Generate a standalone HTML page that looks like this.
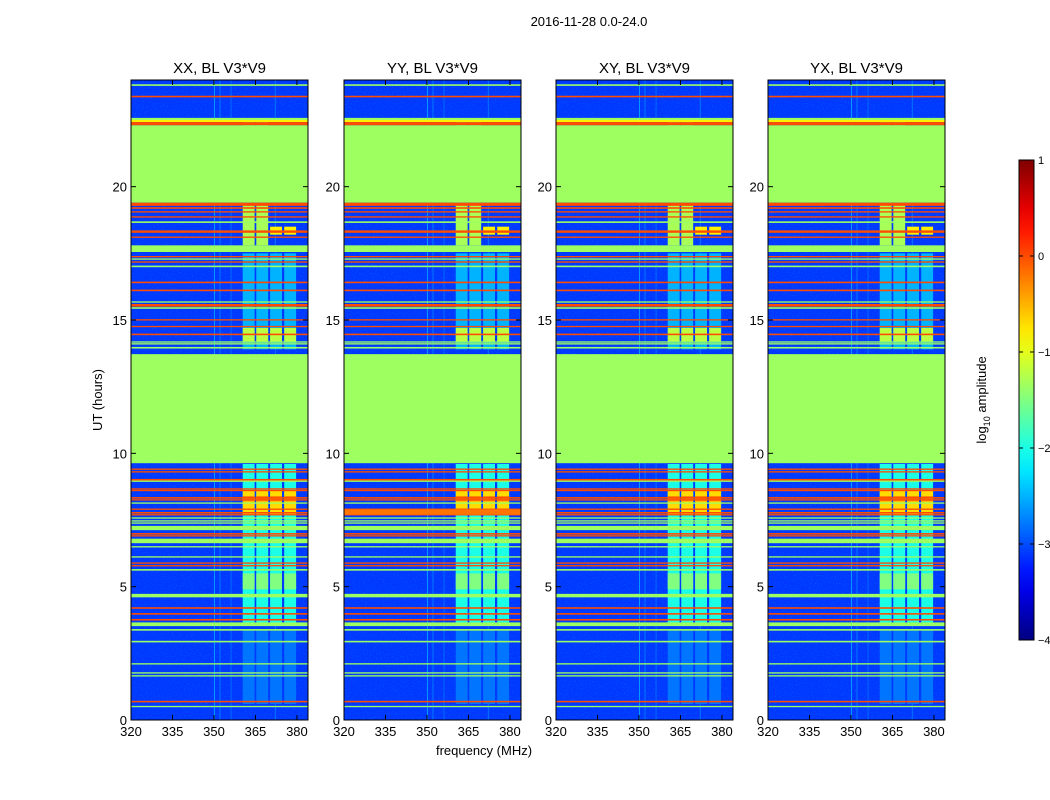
<!DOCTYPE html>
<html><head><meta charset="utf-8"><style>
body{margin:0;background:#fff;}
svg{display:block;font-family:"Liberation Sans",sans-serif;}
</style></head><body>
<svg id="chart" width="1050" height="800">
<text x="589" y="26" font-size="13" text-anchor="middle">2016-11-28 0.0-24.0</text>
<text x="484" y="755" font-size="13" text-anchor="middle">frequency (MHz)</text>
<text transform="translate(102,400) rotate(-90)" font-size="13" text-anchor="middle">UT (hours)</text>
</svg>
<script>
const panelTitles=["XX, BL V3*V9","YY, BL V3*V9","XY, BL V3*V9","YX, BL V3*V9"];
const panelLefts=[131,344,556,768];
const xTicks=[320,335,350,365,380];
const yTicks=[0,5,10,15,20];
const cbTicks=[1,0,-1,-2,-3,-4];
// horizontal bands: [startHour, endHour, log10 amplitude]
const bandStart=[23.78,23.35,22.5,22.42,22.3,22.2,19.4,19.28,19.17,19.03,18.84,18.64,18.27,18.08,17.55,17.35,17.26,17.15,16.98,16.38,16.08,15.65,15.5,15.42,14.98,14.73,14.43,14.15,14.08,13.93,9.63,9.38,9.28,8.98,8.93,8.64,8.58,8.3,8.23,8.11,7.88,7.74,7.67,7.55,7.44,7.36,7.12,6.95,6.88,6.63,6.47,6.09,5.86,5.76,5.6,4.6,4.17,3.95,3.73,3.52,3.35,2.91,2.08,1.74,1.63,0.66,0.48];
const bandEnd  =[23.84,23.41,22.58,22.5,22.42,22.3,22.2,19.4,19.23,19.08,18.89,18.7,18.36,18.13,17.8,17.4,17.31,17.2,17.04,16.44,16.14,15.7,15.6,15.48,15.03,14.78,14.49,14.2,14.13,13.99,13.72,9.43,9.33,9.04,8.98,8.69,8.63,8.36,8.28,8.16,7.93,7.8,7.72,7.6,7.49,7.41,7.28,7.01,6.93,6.8,6.52,6.14,5.91,5.81,5.66,4.73,4.23,4.01,3.79,3.66,3.41,2.97,2.13,1.79,1.68,0.72,0.53];
const bandValue=[-1.35,0,-1.35,-0.8,0,-1.35,-1.35,0,0,0,0,-1.35,0,0,-1.35,0,-1.35,0,-1.35,0,0,-1.35,0,-1.35,0,0,0,-1.35,-1.35,-1.35,-1.35,0,0,0,-1.35,0,0,0,0,-1.35,0,0,0,-1.35,-1.35,-1.35,-1.35,0,0,-1.35,-1.35,-1.35,0,0,-1.35,-1.35,0,0,0,-1.35,-1.35,-1.35,-1.35,-1.35,-1.35,0,-1.35];
// RFI blocks: frequency columns and time ranges
const colStart=[360.4,365.3,370.3,375.4];
const colEnd=[364.7,369.6,374.6,379.7];
const blockStart=[0.6,3.6,4.9,7.7,8.2,13.9,14.2,17.8,18.2,22.1];
const blockEnd=[3.4,9.6,5.5,8.6,8.4,17.5,14.7,19.3,18.5,22.5];
const blockValue=[-2.8,-2.0,-1.5,-0.7,-0.3,-2.5,-1.2,-1.3,-0.8,-2.1];
const blockCols=[[0,1,2,3],[0,1,2,3],[0,1,2,3],[0,1,2,3],[0,1,2,3],[0,1,2,3],[0,1,2,3],[0,1],[2,3],[0,1]];
// faint vertical RFI lines
const vlineFreq=[350,352,356,372];
const vlineValue=[-2.3,-2.6,-2.7,-2.6];
// YY-specific band
const yyBandStart=[7.7];const yyBandEnd=[7.9];const yyBandValue=[-0.2];

const NS="http://www.w3.org/2000/svg";
const svg=document.getElementById("chart");
const TOP=80,BOT=720,PW=177,FMIN=320,FMAX=384,HMAX=24,VMIN=-4,VMAX=1;
function jet(v){let t=(v-VMIN)/(VMAX-VMIN);t=Math.max(0,Math.min(1,t));
 const c=x=>Math.round(255*Math.max(0,Math.min(1,x)));
 return `rgb(${c(1.5-Math.abs(4*t-3))},${c(1.5-Math.abs(4*t-2))},${c(1.5-Math.abs(4*t-1))})`;}
function yH(h){return BOT-(h/HMAX)*(BOT-TOP);}
function el(tag,attrs,parent){const e=document.createElementNS(NS,tag);for(const k in attrs)e.setAttribute(k,attrs[k]);(parent||svg).appendChild(e);return e;}
const defs=el("defs",{});
defs.innerHTML='<filter id="noise" x="0" y="0" width="100%" height="100%"><feTurbulence type="fractalNoise" baseFrequency="0.9" numOctaves="1" seed="3"/><feColorMatrix values="0 0 0 0 0  0 0 0 0 0.6  0 0 0 0 1  0 0 0 1.6 -0.9"/></filter><linearGradient id="cbgrad" x1="0" y1="1" x2="0" y2="0"></linearGradient>';

panelLefts.forEach((L,p)=>{
 const xF=f=>L+(f-FMIN)/(FMAX-FMIN)*PW;
 const g=el("g",{});
 
 
 const bg=el("rect",{x:L,y:TOP,width:PW,height:BOT-TOP,fill:jet(-3.1)},g);
 
 
 el("rect",{x:L,y:TOP,width:PW,height:BOT-TOP,filter:"url(#noise)",opacity:0.7},g);
 vlineFreq.forEach((f,i)=>{const r=el("rect",{x:xF(f),y:TOP,width:1,height:BOT-TOP,fill:jet(vlineValue[i]),opacity:0.6},g);
  
  });
 blockStart.forEach((s,i)=>{blockCols[i].forEach(c=>{
  const r=el("rect",{x:xF(colStart[c]),y:yH(blockEnd[i]),width:xF(colEnd[c])-xF(colStart[c]),height:yH(s)-yH(blockEnd[i]),fill:jet(blockValue[i])},g);
  
  });});
 bandStart.forEach((s,i)=>{const r=el("rect",{x:L,y:yH(bandEnd[i]),width:PW,height:Math.max(1.2,yH(s)-yH(bandEnd[i])),fill:jet(bandValue[i])},g);
  
  });
 if(p===1)yyBandStart.forEach((s,i)=>{const r=el("rect",{x:L,y:yH(yyBandEnd[i]),width:PW,height:yH(s)-yH(yyBandEnd[i]),fill:jet(yyBandValue[i])},g);
  
  });
 el("rect",{x:L,y:TOP,width:PW,height:BOT-TOP,fill:"none",stroke:"#000","stroke-width":1},g);
 const t=el("text",{x:L+PW/2,y:73,"font-size":15,"text-anchor":"middle"},g);t.textContent=panelTitles[p];
 
 
 xTicks.forEach(v=>{const x=xF(v);
  el("line",{x1:x,x2:x,y1:BOT,y2:BOT-5,stroke:"#000"},g);el("line",{x1:x,x2:x,y1:TOP,y2:TOP+5,stroke:"#000"},g);
  const tx=el("text",{x:x,y:BOT+16,"font-size":13,"text-anchor":"middle"},g);tx.textContent=v;
  
  });
 yTicks.forEach(v=>{const y=yH(v);
  el("line",{x1:L,x2:L+5,y1:y,y2:y,stroke:"#000"},g);el("line",{x1:L+PW,x2:L+PW-5,y1:y,y2:y,stroke:"#000"},g);
  const ty=el("text",{x:L-4,y:y+5,"font-size":13,"text-anchor":"end"},g);ty.textContent=v;
  
  });
});
// colorbar
const grad=document.getElementById("cbgrad");
for(let i=0;i<=20;i++){const v=VMIN+(VMAX-VMIN)*i/20;el("stop",{offset:(i/20*100)+"%","stop-color":jet(v)},grad);}
const CBT=160,CBB=640,CBX=1019,CBW=15;
const cb=el("rect",{x:CBX,y:CBT,width:CBW,height:CBB-CBT,fill:"url(#cbgrad)",stroke:"#000"});


cbTicks.forEach(v=>{const y=CBB-(v-VMIN)/(VMAX-VMIN)*(CBB-CBT);
 el("line",{x1:CBX,x2:CBX+4,y1:y,y2:y,stroke:"#000"});el("line",{x1:CBX+CBW,x2:CBX+CBW-4,y1:y,y2:y,stroke:"#000"});
 const t=el("text",{x:CBX+CBW+4,y:y+4,"font-size":11});t.textContent=(v<0?"\u2212"+(-v):v);
 
 });
const cl=el("text",{transform:"translate(986,400) rotate(-90)","font-size":13,"text-anchor":"middle"});
cl.innerHTML='log<tspan font-size="9" dy="4">10</tspan><tspan dy="-4"> amplitude</tspan>';


</script>
</body></html>
